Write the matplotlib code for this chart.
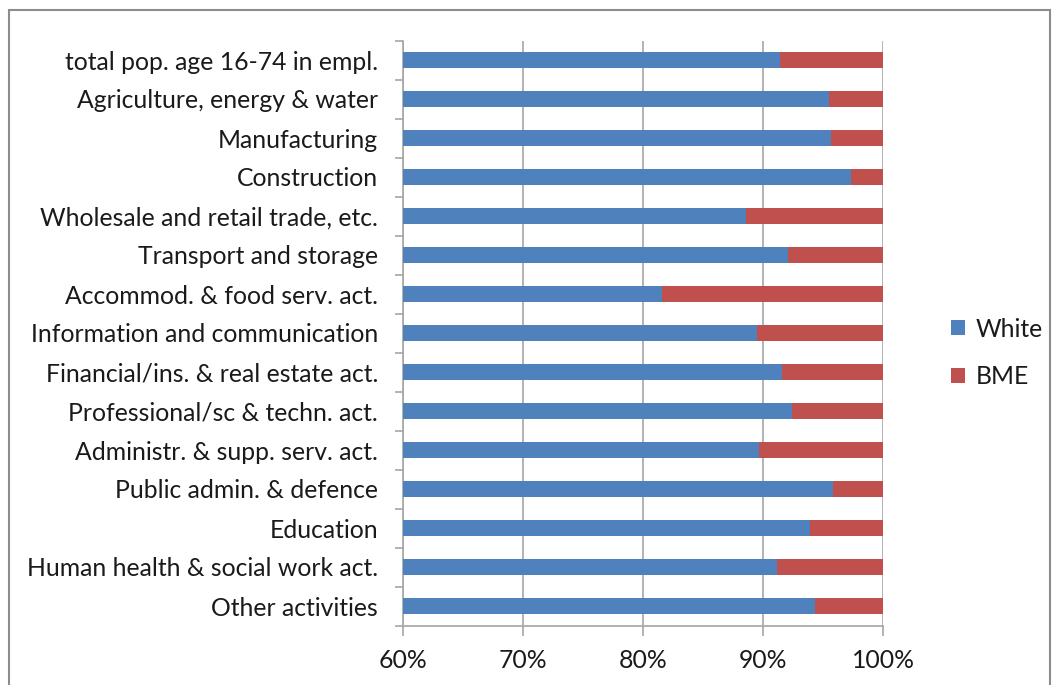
import matplotlib
matplotlib.use("Agg")
import matplotlib.pyplot as plt
from matplotlib.patches import Rectangle, Patch
from matplotlib.ticker import FixedLocator, PercentFormatter
import numpy as np

plt.rcParams['font.family'] = ['Lato', 'DejaVu Sans']

categories = [
    "total pop. age 16-74 in empl.",
    "Agriculture, energy & water",
    "Manufacturing",
    "Construction",
    "Wholesale and retail trade, etc.",
    "Transport and storage",
    "Accommod. & food serv. act.",
    "Information and communication",
    "Financial/ins. & real estate act.",
    "Professional/sc & techn. act.",
    "Administr. & supp. serv. act.",
    "Public admin. & defence",
    "Education",
    "Human health & social work act.",
    "Other activities",
]
white = [91.4, 95.5, 95.7, 97.3, 88.6, 92.05, 81.6, 89.5, 91.6, 92.4, 89.7, 95.8, 93.9, 91.2, 94.3]
bme = [100 - w for w in white]
xticks = [60, 70, 80, 90, 100]

W, H = 1057, 685
FS = 17.8
fig = plt.figure(figsize=(W / 100, H / 100), dpi=100)
fig.patch.set_facecolor("white")
fig.patches.append(Rectangle((9 / W, -0.01), (1050 - 9) / W, 1 - 10 / H + 0.01,
                             transform=fig.transFigure, fill=False,
                             edgecolor="#8c8c8c", linewidth=1.5))

ax = fig.add_axes([403 / W, 1 - 625.5 / H, (883 - 403) / W, (625.5 - 40.5) / H])
y = np.arange(len(categories))
ax.barh(y, white, height=0.4, color="#4F81BD", label="White", zorder=3)
ax.barh(y, bme, left=white, height=0.4, color="#C0504D", label="BME", zorder=3)
ax.set_xlim(60, 100)
ax.set_ylim(len(categories) - 0.5, -0.5)

ax.xaxis.set_major_locator(FixedLocator(xticks))
ax.xaxis.set_major_formatter(PercentFormatter(decimals=0))
ax.grid(axis="x", color="#a6a6a6", linewidth=1.2, zorder=0)
ax.set_yticks(y)
ax.set_yticklabels(categories)
ax.yaxis.set_minor_locator(FixedLocator(np.arange(-0.5, len(categories), 1.0)))
ax.tick_params(axis="y", which="major", length=0, pad=18, labelsize=FS, labelcolor="#1a1a1a")
ax.tick_params(axis="y", which="minor", length=6, color="#a6a6a6", width=1.2)
ax.tick_params(axis="x", which="major", length=7, color="#a6a6a6", width=1.2, pad=10,
               labelsize=FS, labelcolor="#1a1a1a")
for s in ["top", "right"]:
    ax.spines[s].set_visible(False)
for s in ["left", "bottom"]:
    ax.spines[s].set_color("#a6a6a6")
    ax.spines[s].set_linewidth(1.2)

leg = fig.legend(handles=[Patch(facecolor="#4F81BD", label="White"),
                          Patch(facecolor="#C0504D", label="BME")],
                 loc="center left", bbox_to_anchor=(951 / W, 1 - 353 / H),
                 frameon=False, fontsize=FS, handlelength=0.55, handleheight=0.55,
                 handletextpad=0.45, labelspacing=1.0, borderpad=0, borderaxespad=0)
for t in leg.get_texts():
    t.set_color("#1a1a1a")

fig.savefig("out.png", dpi=100)
